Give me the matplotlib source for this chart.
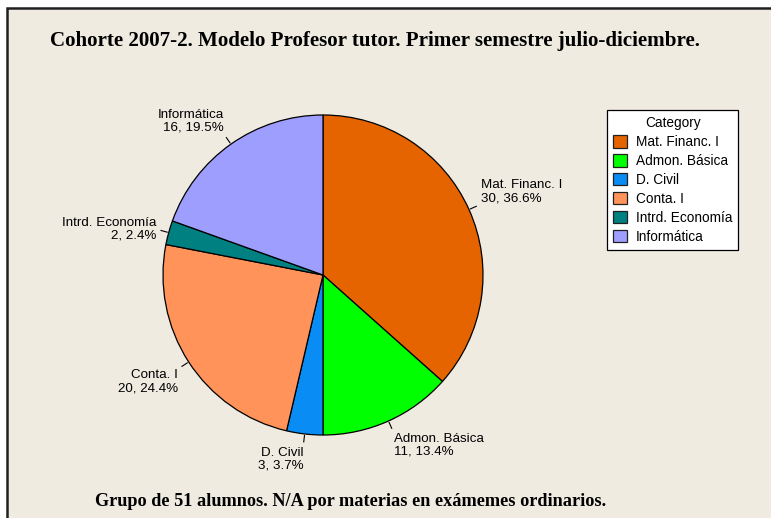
import numpy as np
import matplotlib.pyplot as plt
from matplotlib.patches import Rectangle, Patch

categories = ["Mat. Financ. I", "Admon. Básica", "D. Civil", "Conta. I",
              "Intrd. Economía", "Informática"]
counts = [30, 11, 3, 20, 2, 16]
colors = ["#E66400", "#00FF00", "#0A8CF5", "#FF935A", "#008080", "#9E9EFF"]

title = "Cohorte 2007-2. Modelo Profesor tutor. Primer semestre julio-diciembre."
footer = "Grupo de 51 alumnos. N/A por materias en exámemes ordinarios."
bg = "#EFEBE1"

W, H = 771, 518
fig = plt.figure(figsize=(W / 100, H / 100), dpi=100)
fig.patch.set_facecolor("white")

# beige panel with dark border on top/left (cut off on right/bottom)
fig.add_artist(Rectangle((7 / W, -0.05), 1.1, 1 - 8 / H + 0.05,
                         transform=fig.transFigure, facecolor=bg,
                         edgecolor="#202020", linewidth=1.8, zorder=-10))

fig.text(50 / W, 1 - 41 / H, title, fontsize=15.15, fontweight="bold",
         family="Liberation Serif", ha="left", va="center")
fig.text(95 / W, 1 - 502 / H, footer, fontsize=13.15, fontweight="bold",
         family="Liberation Serif", ha="left", va="center")

# pie axes: centre (323, 275) px, radius 160 px
ax = fig.add_axes([123 / W, 1 - 475 / H, 400 / W, 400 / H])
ax.set_xlim(-1.25, 1.25)
ax.set_ylim(-1.25, 1.25)
ax.axis("off")

wedges, _ = ax.pie(counts, colors=colors, startangle=90, counterclock=False,
                   radius=1.0, wedgeprops=dict(edgecolor="black", linewidth=0.9))

total = sum(counts)
for w, name, c in zip(wedges, categories, counts):
    ang = np.deg2rad((w.theta1 + w.theta2) / 2)
    ca, sa = np.cos(ang), np.sin(ang)
    ax.plot([1.01 * ca, 1.05 * ca], [1.01 * sa, 1.05 * sa], color="black", lw=0.8)
    ha = "left" if ca > 0 else "right"
    if abs(sa) < 0.3:
        va = "center"
    else:
        va = "bottom" if sa > 0 else "top"
    label = f"{name}\n{c}, {100 * c / total:.1f}%"
    ax.text(1.08 * ca, 1.08 * sa, label, ha=ha, va=va, fontsize=9.6,
            family="Liberation Sans", linespacing=1.12,
            multialignment=ha)

handles = [Patch(facecolor=col, edgecolor="#202020", linewidth=0.9) for col in colors]
leg = fig.legend(handles, categories, title="Category",
                 loc="upper left", bbox_to_anchor=(607 / W, 1 - 110 / H),
                 prop={"family": "Liberation Sans", "size": 9.8},
                 title_fontproperties={"family": "Liberation Sans", "size": 9.8},
                 frameon=True, fancybox=False, framealpha=1,
                 handlelength=1.05, handleheight=1.05, handletextpad=0.6,
                 labelspacing=0.36, borderpad=0.45, borderaxespad=0)
leg.get_frame().set_edgecolor("black")
leg.get_frame().set_linewidth(0.9)

fig.savefig("out.png", dpi=100)
